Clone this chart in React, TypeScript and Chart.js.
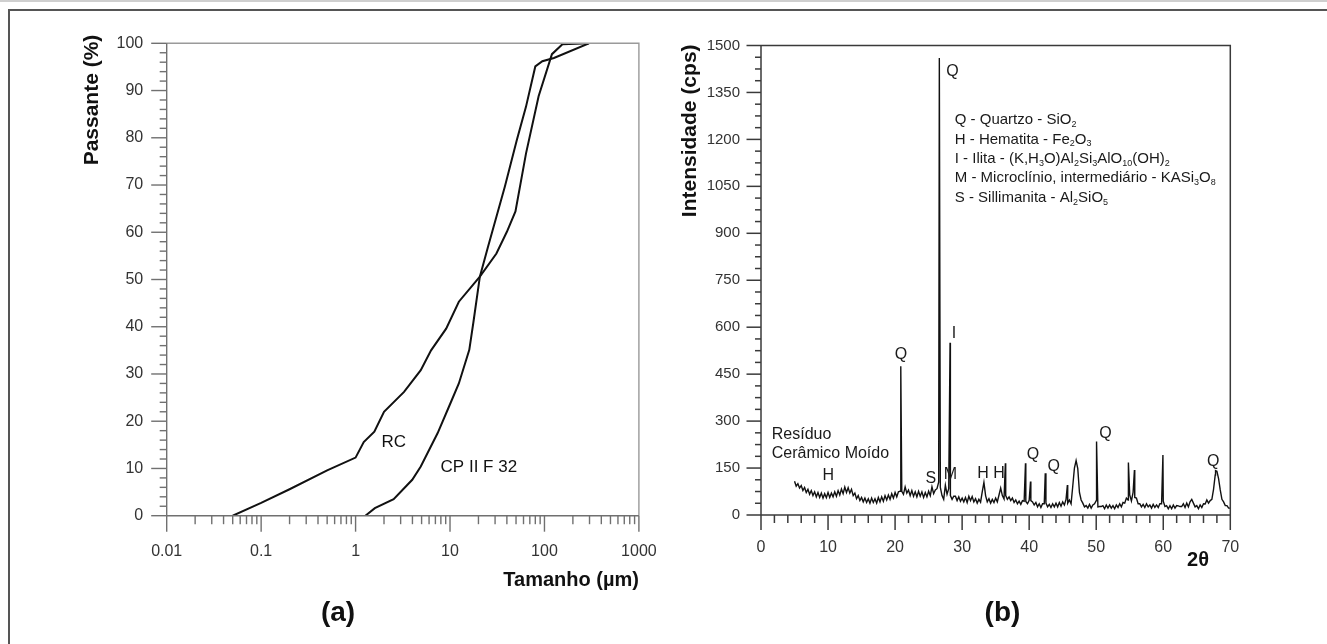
import React, { useEffect, useRef } from "react";
import { Chart, registerables } from "chart.js";

Chart.register(...registerables);

const FONT = '"Liberation Sans", Arial, Helvetica, sans-serif';

// ---------- (a) particle size distribution ----------
const rcSize = [0.05, 0.1, 0.2, 0.5, 1, 1.22, 1.58, 2.0, 3.26, 4.9, 6.3, 9.1, 12.4, 20.7, 31, 40, 49.3, 63.8, 86.7, 120, 155, 296];
const rcPassing = [0, 2.7, 5.6, 9.6, 12.3, 15.6, 17.8, 22, 26.2, 30.8, 35, 39.6, 45.3, 50.6, 55.5, 60.1, 64.4, 76.7, 88.8, 97.7, 99.8, 100];
const cpSize = [1.27, 1.6, 2.53, 3.98, 4.9, 7.4, 10.1, 12.4, 16, 17.7, 20.7, 25.3, 38.1, 50.9, 63.8, 80, 95, 126, 296];
const cpPassing = [0, 1.6, 3.5, 7.6, 10.4, 17.5, 23.8, 28, 35.1, 41, 50.6, 57, 69.7, 79.5, 86.6, 95.1, 96.2, 96.9, 100];
const sizeTicks = [0.01, 0.1, 1, 10, 100, 1000];
const sizeTickLabels = ["0.01", "0.1", "1", "10", "100", "1000"];
const passingTicks = [0, 10, 20, 30, 40, 50, 60, 70, 80, 90, 100];

// ---------- (b) XRD pattern ----------
const xrdStart = 5;
const xrdStep = 0.25;
const xrdBackground = [
  108, 92, 100, 86,
  94, 78, 88, 72,
  82, 66, 78, 62,
  74, 58, 72, 56,
  70, 54, 68, 55,
  72, 56, 70, 58,
  74, 60, 78, 64,
  83, 68, 89, 72,
  87, 70, 82, 62,
  70, 52, 62, 46,
  56, 42, 54, 40,
  52, 38, 54, 40,
  52, 38, 56, 42,
  58, 44, 62, 48,
  64, 50, 68, 54,
  72, 58, 74, 76,
  76, 66, 90, 70,
  80, 62, 78, 60,
  74, 58, 76, 60,
  74, 56, 72, 58,
  76, 62, 90, 68,
  80, 84, 105, 88,
  62, 50, 95, 66,
  84, 62, 50, 60,
  60, 46, 58, 44,
  54, 42, 56, 40,
  60, 46, 59, 42,
  52, 38, 50, 41,
  74, 104, 62, 42,
  52, 38, 50, 40,
  54, 42, 64, 86,
  62, 51, 62, 50,
  58, 46, 54, 40,
  48, 36, 44, 34,
  46, 44, 43, 36,
  47, 46, 42, 32,
  40, 26, 36, 24,
  36, 36, 38, 26,
  34, 24, 36, 26,
  38, 26, 40, 28,
  42, 32, 50, 38,
  48, 36, 92, 150,
  174, 148, 72, 48,
  38, 26, 30, 22,
  34, 22, 32, 36,
  46, 26, 27, 27,
  30, 20, 32, 22,
  32, 22, 30, 20,
  32, 24, 36, 26,
  40, 38, 54, 48,
  64, 45, 72, 56,
  54, 36, 36, 26,
  34, 24, 36, 26,
  32, 22, 34, 24,
  32, 24, 36, 36,
  44, 27, 30, 20,
  30, 20, 32, 22,
  30, 29, 27, 27,
  36, 24, 38, 26,
  42, 50, 38, 26,
  30, 20, 32, 24,
  36, 35, 48, 38,
  46, 50, 82, 128,
  140, 116, 80, 50,
  42, 30, 30, 22,
  22,
];
const xrdPeakAngle = [20.85, 26.6, 28.2, 36.45, 39.45, 40.2, 42.4, 45.7, 50.05, 54.8, 55.7, 59.95, 67.8];
const xrdPeakCounts = [475, 1460, 550, 165, 165, 107, 133, 96, 235, 168, 144, 192, 142];
const angleTicks = [0, 10, 20, 30, 40, 50, 60, 70];
const countTicks = [0, 150, 300, 450, 600, 750, 900, 1050, 1200, 1350, 1500];

const peakLabels: { t: string; a: number; c: number }[] = [
  { t: "Q", a: 20.87, c: 511 },
  { t: "I", a: 28.77, c: 580 },
  { t: "H", a: 10.02, c: 125 },
  { t: "S", a: 25.32, c: 117 },
  { t: "M", a: 28.25, c: 128 },
  { t: "H", a: 33.11, c: 131 },
  { t: "H", a: 35.49, c: 131 },
  { t: "Q", a: 40.56, c: 192 },
  { t: "Q", a: 43.68, c: 154 },
  { t: "Q", a: 51.38, c: 259 },
  { t: "Q", a: 67.47, c: 170 },
];

const legendLines = [
  "Q - Quartzo - SiO{2}",
  "H - Hematita - Fe{2}O{3}",
  "I - Ilita - (K,H{3}O)Al{2}Si{3}AlO{10}(OH){2}",
  "M - Microclínio, intermediário - KASi{3}O{8}",
  "S - Sillimanita - Al{2}SiO{5}",
];

function line(ctx: CanvasRenderingContext2D, x1: number, y1: number, x2: number, y2: number) {
  ctx.beginPath();
  ctx.moveTo(x1, y1);
  ctx.lineTo(x2, y2);
  ctx.stroke();
}

function richText(ctx: CanvasRenderingContext2D, text: string, x: number, y: number, size: number) {
  const parts = text.split(/(\{[^}]*\})/).filter((p) => p.length);
  let cx = x;
  ctx.textAlign = "left";
  ctx.textBaseline = "middle";
  for (const p of parts) {
    if (p.startsWith("{")) {
      const s = p.slice(1, -1);
      ctx.font = `${Math.round(size * 0.6)}px ${FONT}`;
      ctx.fillText(s, cx, y + size * 0.3);
      cx += ctx.measureText(s).width;
    } else {
      ctx.font = `${size}px ${FONT}`;
      ctx.fillText(p, cx, y);
      cx += ctx.measureText(p).width;
    }
  }
}

const leftDecor = {
  id: "leftDecor",
  afterDraw(chart: any) {
    const { ctx, chartArea } = chart;
    const { left, right, top, bottom } = chartArea;
    const x = chart.scales.x;
    const y = chart.scales.y;
    ctx.save();
    ctx.lineWidth = 1.4;
    ctx.strokeStyle = "#9a9a9a";
    ctx.beginPath();
    ctx.moveTo(left, top);
    ctx.lineTo(right, top);
    ctx.lineTo(right, bottom);
    ctx.stroke();
    ctx.strokeStyle = "#707070";
    line(ctx, left, top, left, bottom);
    line(ctx, left, bottom, right, bottom);
    for (let v = 0; v <= 100; v += 2) {
      const py = y.getPixelForValue(v);
      const len = v % 10 === 0 ? 15.5 : 7;
      line(ctx, left - len, py, left, py);
    }
    for (let d = 0; d < sizeTicks.length; d++) {
      const px = x.getPixelForValue(sizeTicks[d]);
      line(ctx, px, bottom, px, bottom + 16);
      if (d < sizeTicks.length - 1) {
        for (let m = 2; m <= 9; m++) {
          const mx = x.getPixelForValue(sizeTicks[d] * m);
          line(ctx, mx, bottom, mx, bottom + 8.5);
        }
      }
    }
    ctx.fillStyle = "#333";
    ctx.font = `16px ${FONT}`;
    ctx.textAlign = "right";
    ctx.textBaseline = "middle";
    passingTicks.forEach((v) => ctx.fillText(String(v), left - 23.5, y.getPixelForValue(v)));
    ctx.textAlign = "center";
    sizeTicks.forEach((v, i) => ctx.fillText(sizeTickLabels[i], x.getPixelForValue(v), bottom + 35.5));

    ctx.fillStyle = "#111";
    ctx.font = `17px ${FONT}`;
    ctx.fillText("RC", x.getPixelForValue(2.54), y.getPixelForValue(15.5));
    ctx.fillText("CP II F 32", x.getPixelForValue(20.2), y.getPixelForValue(10.2));

    ctx.fillStyle = "#111";
    ctx.font = `bold 20px ${FONT}`;
    ctx.textAlign = "right";
    ctx.fillText("Tamanho (µm)", right, 580);
    ctx.textAlign = "center";
    ctx.font = `bold 28px ${FONT}`;
    ctx.fillText("(a)", 338, 613);

    ctx.save();
    ctx.translate(92.6, 100);
    ctx.rotate(-Math.PI / 2);
    ctx.font = `bold 21px ${FONT}`;
    ctx.textAlign = "center";
    ctx.textBaseline = "middle";
    ctx.fillText("Passante (%)", 0, 0);
    ctx.restore();
    ctx.restore();
  },
};

const rightDecor = {
  id: "rightDecor",
  afterDraw(chart: any) {
    const { ctx, chartArea } = chart;
    const { left, right, top, bottom } = chartArea;
    const x = chart.scales.x;
    const y = chart.scales.y;
    ctx.save();
    ctx.lineWidth = 1.5;
    ctx.strokeStyle = "#3a3a3a";
    ctx.beginPath();
    ctx.moveTo(left, top);
    ctx.lineTo(right, top);
    ctx.lineTo(right, bottom);
    ctx.stroke();
    line(ctx, left, top, left, bottom);
    line(ctx, left, bottom, right, bottom);
    for (let v = 0; v <= 1500; v += 37.5) {
      const py = y.getPixelForValue(v);
      const len = Math.abs(v % 150) < 0.01 ? 14.5 : 6;
      line(ctx, left - len, py, left, py);
    }
    for (let v = 0; v <= 70; v += 2) {
      const px = x.getPixelForValue(v);
      const len = v % 10 === 0 ? 15 : 8;
      line(ctx, px, bottom, px, bottom + len);
    }
    ctx.fillStyle = "#333";
    ctx.font = `15px ${FONT}`;
    ctx.textAlign = "right";
    ctx.textBaseline = "middle";
    countTicks.forEach((v) => ctx.fillText(String(v), left - 21, y.getPixelForValue(v)));
    ctx.font = `16px ${FONT}`;
    ctx.textAlign = "center";
    angleTicks.forEach((v) => ctx.fillText(String(v), x.getPixelForValue(v), bottom + 33));

    ctx.fillStyle = "#1a1a1a";
    ctx.font = `16px ${FONT}`;
    peakLabels.forEach((p) => ctx.fillText(p.t, x.getPixelForValue(p.a), y.getPixelForValue(p.c)));
    ctx.fillText("Q", x.getPixelForValue(28.55), y.getPixelForValue(1416));
    ctx.textAlign = "left";
    ctx.fillText("Resíduo", x.getPixelForValue(1.6), y.getPixelForValue(256));
    ctx.fillText("Cerâmico Moído", x.getPixelForValue(1.6), y.getPixelForValue(197));

    legendLines.forEach((t, i) => richText(ctx, t, x.getPixelForValue(28.9), 120 + i * 19.4, 15));

    ctx.fillStyle = "#111";
    ctx.textAlign = "center";
    ctx.textBaseline = "middle";
    ctx.font = `bold 20px ${FONT}`;
    ctx.fillText("2θ", 538, 560);
    ctx.font = `bold 28px ${FONT}`;
    ctx.fillText("(b)", 342.5, 613);

    ctx.save();
    ctx.translate(30.6, 130.8);
    ctx.rotate(-Math.PI / 2);
    ctx.font = `bold 21px ${FONT}`;
    ctx.fillText("Intensidade (cps)", 0, 0);
    ctx.restore();
    ctx.restore();
  },
};

export default function App() {
  const leftRef = useRef<HTMLCanvasElement>(null);
  const rightRef = useRef<HTMLCanvasElement>(null);

  useEffect(() => {
    document.body.style.margin = "0";
    const rcData = rcSize.map((s, i) => ({ x: s, y: rcPassing[i] }));
    const cpData = cpSize.map((s, i) => ({ x: s, y: cpPassing[i] }));
    const left = new Chart(leftRef.current!, {
      type: "line",
      data: {
        datasets: [
          { label: "RC", data: rcData, borderColor: "#111", borderWidth: 2, pointRadius: 0, tension: 0, fill: false },
          { label: "CP II F 32", data: cpData, borderColor: "#111", borderWidth: 2, pointRadius: 0, tension: 0, fill: false },
        ],
      },
      options: {
        animation: false,
        responsive: false,
        devicePixelRatio: 1,
        layout: { padding: { left: 166.7, right: 21.1, top: 43.3, bottom: 128.3 } },
        plugins: { legend: { display: false }, tooltip: { enabled: false } },
        scales: {
          x: { type: "logarithmic", min: 0.01, max: 1000, display: false },
          y: { type: "linear", min: 0, max: 100, display: false },
        },
      },
      plugins: [leftDecor],
    });

    const xrdPoints: { x: number; y: number }[] = [];
    xrdBackground.forEach((c, i) => xrdPoints.push({ x: xrdStart + i * xrdStep, y: c }));
    xrdPeakAngle.forEach((a, i) => xrdPoints.push({ x: a, y: xrdPeakCounts[i] }));
    xrdPoints.sort((p, q) => p.x - q.x);

    const right = new Chart(rightRef.current!, {
      type: "line",
      data: {
        datasets: [
          { label: "Resíduo Cerâmico Moído", data: xrdPoints, borderColor: "#111", borderWidth: 1.4, pointRadius: 0, tension: 0, fill: false },
        ],
      },
      options: {
        animation: false,
        responsive: false,
        devicePixelRatio: 1,
        layout: { padding: { left: 101, right: 96.7, top: 45.5, bottom: 129 } },
        plugins: { legend: { display: false }, tooltip: { enabled: false } },
        scales: {
          x: { type: "linear", min: 0, max: 70, display: false },
          y: { type: "linear", min: 0, max: 1500, display: false },
        },
      },
      plugins: [rightDecor],
    });
    return () => {
      left.destroy();
      right.destroy();
    };
  }, []);

  return (
    <div style={{ position: "absolute", left: 0, top: 0, width: 1327, height: 644, overflow: "hidden", background: "#fff" }}>
      <div style={{ position: "absolute", left: 0, top: 0, width: 1327, height: 2, background: "#cfcfcf" }} />
      <div style={{ position: "absolute", left: 8, top: 9, width: 1400, height: 700, border: "2px solid #555", boxSizing: "border-box" }} />
      <canvas ref={leftRef} width={660} height={644} style={{ position: "absolute", left: 0, top: 0, width: 660, height: 644 }} />
      <canvas ref={rightRef} width={667} height={644} style={{ position: "absolute", left: 660, top: 0, width: 667, height: 644 }} />
    </div>
  );
}
